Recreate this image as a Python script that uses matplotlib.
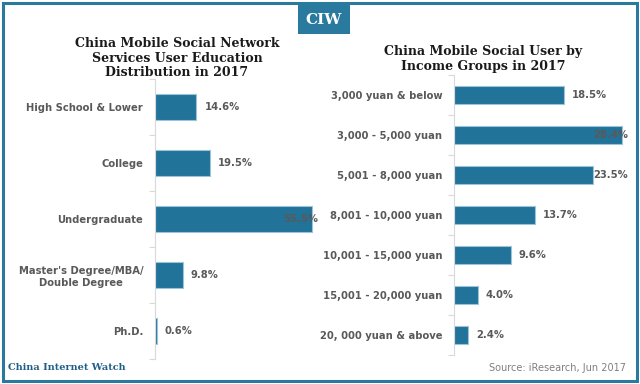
import matplotlib
matplotlib.use("Agg")
import matplotlib.pyplot as plt
from matplotlib.patches import Rectangle
import matplotlib.transforms as mtransforms

edu_categories = ["High School & Lower", "College", "Undergraduate",
                  "Master's Degree/MBA/\nDouble Degree", "Ph.D."]
edu_values = [14.6, 19.5, 55.5, 9.8, 0.6]

inc_categories = ["3,000 yuan & below", "3,000 - 5,000 yuan", "5,001 - 8,000 yuan",
                  "8,001 - 10,000 yuan", "10,001 - 15,000 yuan", "15,001 - 20,000 yuan",
                  "20, 000 yuan & above"]
inc_values = [18.5, 28.4, 23.5, 13.7, 9.6, 4.0, 2.4]

BAR = "#21739a"
EDGE = "#9cc3d8"
GRAY = "#595959"
TEAL = "#2a7aa0"

W, H = 640, 384
fig = plt.figure(figsize=(W / 100, H / 100), dpi=100)
fig.patch.set_facecolor("white")


def fx(px):
    return px / W


def fy(py):
    return 1 - py / H


def make_axes(x0, x1, y0, y1, cats, vals, xmax):
    ax = fig.add_axes([fx(x0), fy(y1), fx(x1 - x0), (y1 - y0) / H])
    n = len(cats)
    ypos = list(range(n))
    ax.barh(ypos, vals, height=0.46, color=BAR, edgecolor=EDGE, linewidth=0.8)
    ax.set_ylim(n - 0.5, -0.5)
    ax.set_xlim(0, xmax)
    ax.set_yticks(ypos)
    labels = ax.set_yticklabels(cats, fontsize=7.2, color=GRAY, fontweight="bold",
                                family="DejaVu Sans", linespacing=1.3)
    for lab in labels:
        lab.set_multialignment("center")
    ax.set_yticks([i - 0.5 for i in range(n + 1)], minor=True)
    ax.tick_params(axis="y", which="major", length=0, pad=8.5)
    ax.tick_params(axis="y", which="minor", length=4, color="#d9d9d9", width=0.8)
    ax.set_xticks([])
    for s in ["top", "right", "bottom"]:
        ax.spines[s].set_visible(False)
    ax.spines["left"].set_color("#d9d9d9")
    ax.spines["left"].set_linewidth(0.8)
    ax.patch.set_alpha(0)
    texts = []
    for i, v in enumerate(vals):
        off = mtransforms.offset_copy(ax.transData, fig=fig, x=8, y=0, units="dots")
        t = ax.text(v, i, f"{v:.1f}%", transform=off, ha="left", va="center",
                    fontsize=7.2, color=GRAY, fontweight="bold", family="DejaVu Sans",
                    clip_on=False)
        texts.append(t)
    return ax, texts


axL, tL = make_axes(155, 318, 79, 359, edu_categories, edu_values, (318 - 155) / 2.83)
axR, tR = make_axes(454, 628, 75, 355, inc_categories, inc_values, (628 - 454) / 5.92)

fig.canvas.draw()
r = fig.canvas.get_renderer()
for ax, texts in [(axL, tL), (axR, tR)]:
    right = ax.get_window_extent(r).x1
    for t in texts:
        bb = t.get_window_extent(r)
        if bb.x1 > right:
            t.set_transform(t.get_transform() + mtransforms.Affine2D().translate(right - bb.x1, 0))

# titles
fig.text(fx(177), fy(58), "China Mobile Social Network\nServices User Education\nDistribution in 2017",
         ha="center", va="center", fontsize=9, fontweight="bold", family="DejaVu Serif",
         color="#1a1a1a", linespacing=1.15)
fig.text(fx(483), fy(59), "China Mobile Social User by\nIncome Groups in 2017",
         ha="center", va="center", fontsize=9, fontweight="bold", family="DejaVu Serif",
         color="#1a1a1a", linespacing=1.15)

# CIW box
fig.patches.append(Rectangle((fx(298), fy(34)), fx(52), 29 / H, transform=fig.transFigure,
                             facecolor=TEAL, edgecolor="none"))
fig.text(fx(324), fy(19.5), "CIW", ha="center", va="center", fontsize=11,
         fontweight="bold", family="DejaVu Serif", color="white")

# footer
fig.text(fx(8), fy(368), "China Internet Watch", ha="left", va="center", fontsize=7,
         fontweight="bold", family="DejaVu Serif", color="#1f5f87")
fig.text(fx(626), fy(368), "Source: iResearch, Jun 2017", ha="right", va="center",
         fontsize=7, family="DejaVu Sans", color="#7f7f7f")

# frame
fig.patches.append(Rectangle((fx(3), fy(381)), fx(634), 378 / H, transform=fig.transFigure,
                             facecolor="none", edgecolor=TEAL, linewidth=2.2))

fig.savefig("out.png", dpi=100, facecolor="white")
